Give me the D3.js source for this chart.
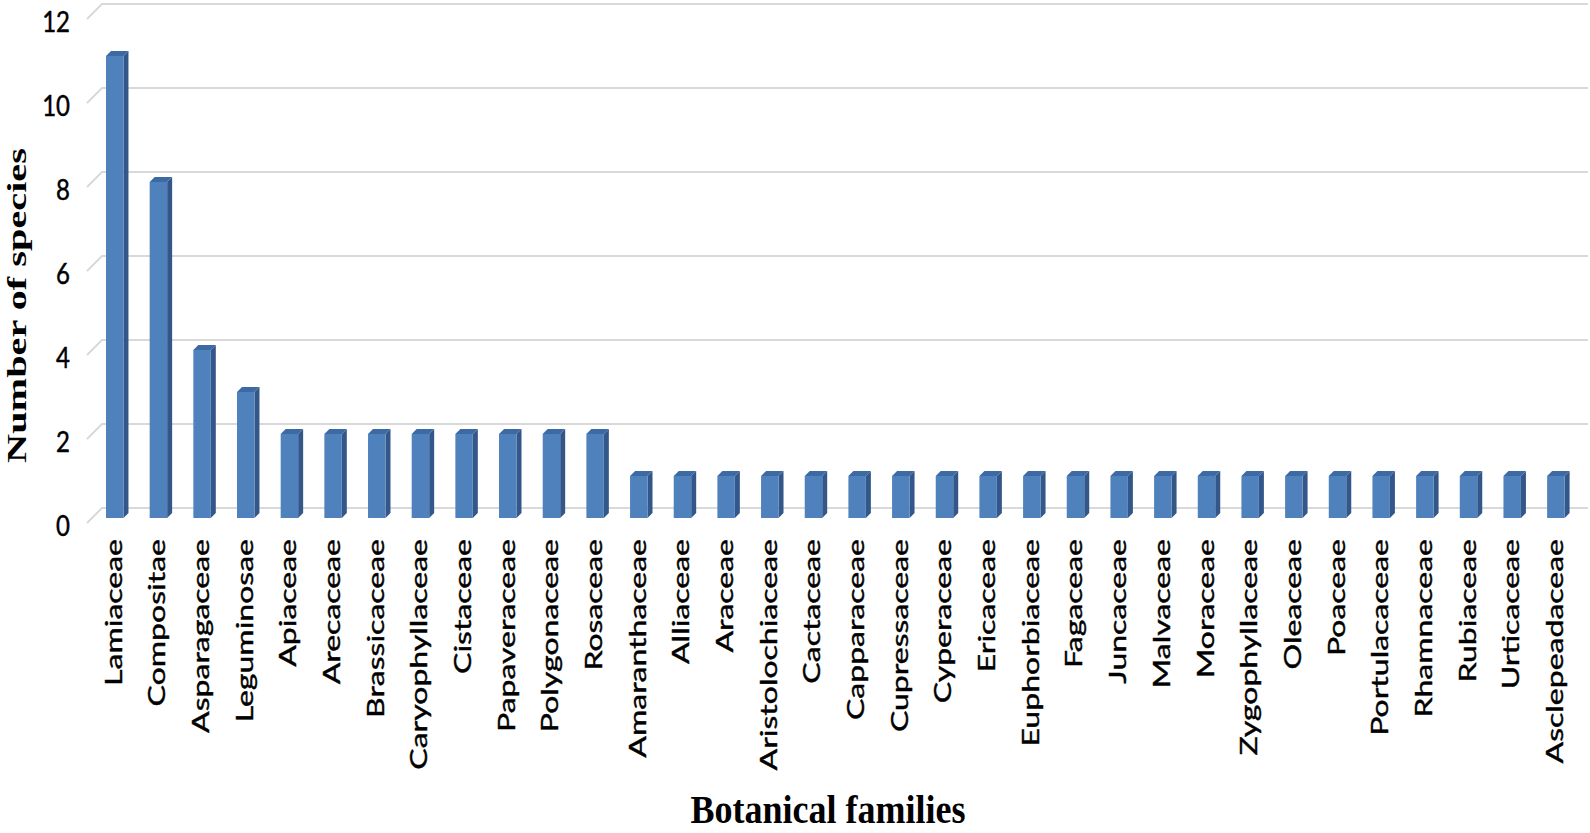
<!DOCTYPE html>
<html><head><meta charset="utf-8">
<script src="https://cdn.jsdelivr.net/npm/d3@7"></script>
<style>body{margin:0;background:#fff}svg{display:block}</style>
</head><body>
<svg id="chart" width="1590" height="833"></svg>
<script>
const categories = ["Lamiaceae","Compositae","Asparagaceae","Leguminosae","Apiaceae","Arecaceae","Brassicaceae","Caryophyllaceae","Cistaceae","Papaveraceae","Polygonaceae","Rosaceae","Amaranthaceae","Alliaceae","Araceae","Aristolochiaceae","Cactaceae","Capparaceae","Cupressaceae","Cyperaceae","Ericaceae","Euphorbiaceae","Fagaceae","Juncaceae","Malvaceae","Moraceae","Zygophyllaceae","Oleaceae","Poaceae","Portulacaceae","Rhamnaceae","Rubiaceae","Urticaceae","Asclepeadaceae"];
const values = [11,8,4,3,2,2,2,2,2,2,2,2,1,1,1,1,1,1,1,1,1,1,1,1,1,1,1,1,1,1,1,1,1,1];
const yTicks = [0,2,4,6,8,10,12];
const xTitle = "Botanical families";
const yTitle = "Number of species";

const svg = d3.select("#chart");
const depth = 5;          // bar 3D depth
const wallDX = 15, wallDY = 15; // gridline slant

const x = d3.scaleBand().domain(categories).range([92.9, 1577.7]).paddingInner(0.6).paddingOuter(0.3);
const yFront = d3.scaleLinear().domain([0,12]).range([518, 14]);
const yBack = d3.scaleLinear().domain([0,12]).range([508, 4]);

// gridlines
const g = svg.append("g");
yTicks.forEach(t => {
  const yb = yBack(t);
  g.append("polyline")
    .attr("points", `87,${yb+wallDY} ${87+wallDX},${yb} 1588,${yb}`)
    .attr("fill","none").attr("stroke","#d9d9d9").attr("stroke-width",2);
});

const labFont = "Lato, 'Open Sans', sans-serif";
// tick labels
yTicks.forEach(t => {
  const cy = yBack(t) + wallDY + 3;
  svg.append("text")
    .attr("transform", `translate(70,${cy}) scale(1,1.2)`)
    .attr("text-anchor","end").attr("dy","0.36em")
    .attr("font-family",labFont).attr("font-size",24)
    .attr("fill","#000").attr("stroke","#000").attr("stroke-width",0.4).text(t);
});

// bars
const bars = svg.append("g");
categories.forEach((c,i) => {
  const x0 = x(c), w = x.bandwidth();
  const yt = yFront(values[i]), yb = yFront(0);
  bars.append("polygon") // side
    .attr("points", `${x0+w},${yt} ${x0+w+depth},${yt-depth} ${x0+w+depth},${yb-depth} ${x0+w},${yb}`)
    .attr("fill","#34578a");
  bars.append("polygon") // top
    .attr("points", `${x0},${yt} ${x0+depth},${yt-depth} ${x0+w+depth},${yt-depth} ${x0+w},${yt}`)
    .attr("fill","#3e6aa3");
  bars.append("rect")
    .attr("x",x0).attr("y",yt).attr("width",w).attr("height",yb-yt)
    .attr("fill","#4f81bd");
});

// category labels
const probe = svg.append("text").attr("font-family",labFont).attr("font-size",24).text(categories[0]);
const sx = 147 / probe.node().getComputedTextLength();
probe.remove();
categories.forEach(c => {
  const cx = x(c) + x.bandwidth()/2 + 7;
  svg.append("text")
    .attr("transform", `translate(${cx},539) rotate(-90) scale(${sx},1)`)
    .attr("text-anchor","end")
    .attr("font-family",labFont).attr("font-size",24).attr("fill","#000")
    .attr("stroke","#000").attr("stroke-width",0.4)
    .text(c);
});

// axis titles
const tFont = "'Liberation Serif','Times New Roman',serif";
const p2 = svg.append("text").attr("font-family",tFont).attr("font-size",28).attr("font-weight","bold").text(yTitle);
const sy2 = 315 / p2.node().getComputedTextLength();
p2.remove();
svg.append("text")
  .attr("transform", `translate(26,305.5) rotate(-90) scale(${sy2},1)`)
  .attr("text-anchor","middle")
  .attr("font-family",tFont).attr("font-size",28).attr("font-weight","bold").attr("fill","#000")
  .text(yTitle);
svg.append("text")
  .attr("transform", `translate(828,823) scale(1,1.1)`)
  .attr("text-anchor","middle")
  .attr("font-family",tFont).attr("font-size",36).attr("font-weight","bold").attr("fill","#000")
  .text(xTitle);
</script>
</body></html>
